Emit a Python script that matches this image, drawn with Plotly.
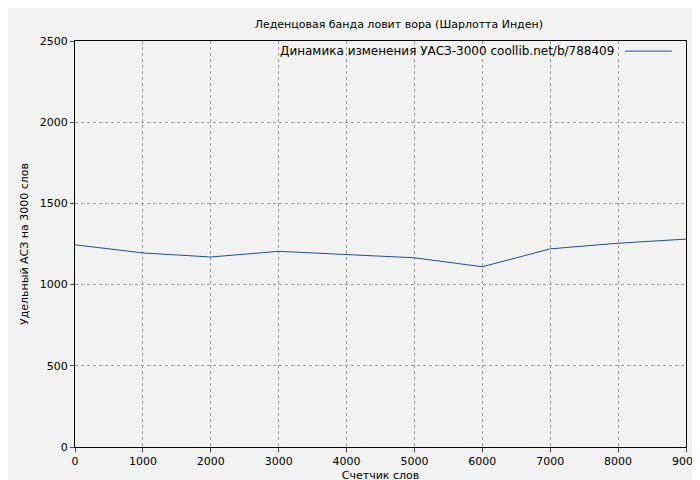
import plotly.graph_objects as go

words = [0, 1000, 2000, 3000, 4000, 5000, 6000, 7000, 8000, 9000]
asz = [1245, 1195, 1170, 1205, 1185, 1165, 1110, 1220, 1255, 1280]
series_name = "Динамика изменения УАСЗ-3000 coollib.net/b/788409"
line_color = "#1f4e9c"

fig = go.Figure()
fig.add_trace(go.Scatter(x=words, y=asz, mode="lines", name=series_name,
                         line=dict(color=line_color, width=1), showlegend=False))

fig.update_layout(
    width=700, height=480,
    paper_bgcolor="#f2f2f2", plot_bgcolor="#f2f2f2",
    margin=dict(l=67, r=22, t=33, b=41, autoexpand=False),
    font=dict(family="DejaVu Sans", size=11, color="black"),
    title=dict(text="Леденцовая банда ловит вора (Шарлотта Инден)",
               x=0.53, xanchor="center", xref="paper", y=1 - 16 / 480, yref="container",
               yanchor="middle", font=dict(size=11)),
)
# legend drawn by hand: text with the line sample to its right
fig.add_annotation(text=series_name, xref="paper", yref="paper", x=0.886, y=0.975,
                   xanchor="right", yanchor="middle", showarrow=False, font=dict(size=12))
fig.add_shape(type="line", xref="paper", yref="paper", x0=0.9, x1=0.977, y0=0.975, y1=0.975,
              line=dict(color=line_color, width=1))

axis_style = dict(showline=True, linecolor="black", mirror=True, ticks="outside",
                  ticklen=4, gridcolor="#999999", griddash="dot", zeroline=False,
                  automargin=False, title_font=dict(size=11))
fig.update_xaxes(range=[0, 9000], dtick=1000, title=dict(text="Счетчик слов", standoff=4), **axis_style)
fig.update_yaxes(range=[0, 2500], dtick=500, title=dict(text="Удельный АСЗ на 3000 слов", standoff=8), **axis_style)

fig.write_html("out.html")
